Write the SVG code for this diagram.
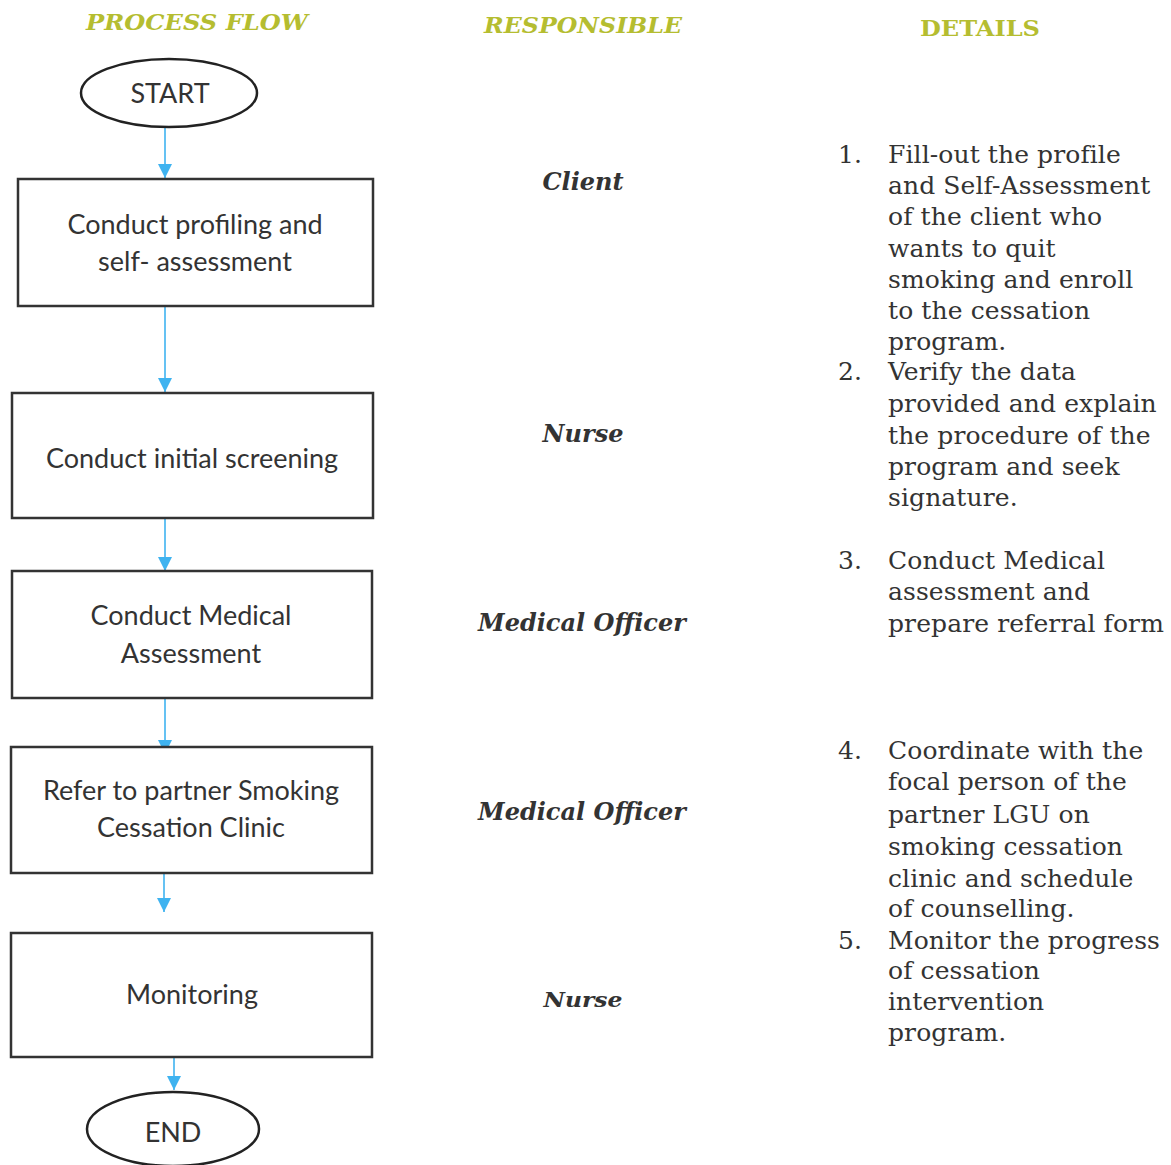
<svg xmlns="http://www.w3.org/2000/svg" width="1171" height="1165" viewBox="0 0 1171 1165">
<defs>
<marker id="arr" viewBox="0 0 10 10" refX="10" refY="5" markerWidth="14" markerHeight="14" markerUnits="userSpaceOnUse" orient="auto">
<path d="M0,0 L10,5 L0,10 Z" fill="#3fb3f0"/>
</marker>
<style>
.hdr{font-family:"DejaVu Serif","Liberation Serif",serif;font-weight:bold;font-style:italic;font-size:22px;fill:#b5bd30;text-anchor:middle}
.hdr2{font-family:"DejaVu Serif","Liberation Serif",serif;font-weight:bold;font-size:22px;fill:#b5bd30;text-anchor:middle}
.box{fill:#fff;stroke:#333;stroke-width:2.5}
.ell{fill:#fff;stroke:#222;stroke-width:2.5}
.lbl{font-family:"Lato","Open Sans",sans-serif;font-size:27px;fill:#333;text-anchor:middle}
.resp{font-family:"DejaVu Serif","Liberation Serif",serif;font-weight:bold;font-style:italic;font-size:24px;fill:#333;text-anchor:middle}
.det{font-family:"DejaVu Serif","Liberation Serif",serif;font-size:25px;letter-spacing:0.1px;fill:#333}
.conn{stroke:#3fb3f0;stroke-width:1.6;fill:none}
</style>
</defs>
<rect width="1171" height="1165" fill="#fff"/>
<g id="headers">
<text class="hdr" x="197" y="30" textLength="222" lengthAdjust="spacingAndGlyphs">PROCESS FLOW</text>
<text class="hdr" x="583" y="33" textLength="198" lengthAdjust="spacingAndGlyphs">RESPONSIBLE</text>
<text class="hdr2" x="980" y="36" textLength="120" lengthAdjust="spacingAndGlyphs">DETAILS</text>
</g>
<g id="connectors">
<line class="conn" x1="165" y1="128" x2="165" y2="178" marker-end="url(#arr)"/>
<line class="conn" x1="165" y1="306" x2="165" y2="392" marker-end="url(#arr)"/>
<line class="conn" x1="165" y1="519" x2="165" y2="571" marker-end="url(#arr)"/>
<line class="conn" x1="165" y1="698" x2="165" y2="754" marker-end="url(#arr)"/>
<line class="conn" x1="164" y1="873" x2="164" y2="912" marker-end="url(#arr)"/>
<line class="conn" x1="174" y1="1057" x2="174" y2="1090" marker-end="url(#arr)"/>
</g>
<g id="start">
<ellipse class="ell" cx="169" cy="93" rx="88" ry="34"/>
<text class="lbl" x="170" y="103">START</text>
</g>
<g id="profiling">
<rect class="box" x="18" y="179" width="355" height="127"/>
<text class="lbl" x="195" y="234">Conduct profiling and</text>
<text class="lbl" x="195" y="271">self- assessment</text>
</g>
<g id="screening">
<rect class="box" x="12" y="393" width="361" height="125"/>
<text class="lbl" x="192" y="468">Conduct initial screening</text>
</g>
<g id="medical">
<rect class="box" x="12" y="571" width="360" height="127"/>
<text class="lbl" x="191" y="625">Conduct Medical</text>
<text class="lbl" x="191" y="663">Assessment</text>
</g>
<g id="refer">
<rect class="box" x="11" y="747" width="361" height="126"/>
<text class="lbl" x="191" y="800">Refer to partner Smoking</text>
<text class="lbl" x="191" y="837">Cessation Clinic</text>
</g>
<g id="monitoring">
<rect class="box" x="11" y="933" width="361" height="124"/>
<text class="lbl" x="192" y="1004">Monitoring</text>
</g>
<g id="end">
<ellipse class="ell" cx="173" cy="1129" rx="86" ry="37"/>
<text class="lbl" x="173" y="1142">END</text>
</g>
<g id="responsible">
<text class="resp" x="583" y="190">Client</text>
<text class="resp" x="583" y="442">Nurse</text>
<text class="resp" x="582" y="631">Medical Officer</text>
<text class="resp" x="582" y="820">Medical Officer</text>
<text class="resp" x="583" y="1007" style="font-size:21px" textLength="79" lengthAdjust="spacingAndGlyphs">Nurse</text>
</g>
<g id="details">
<text class="det" x="838" y="163">1.</text>
<text class="det" x="888" y="163">Fill-out the profile</text>
<text class="det" x="888" y="194">and Self-Assessment</text>
<text class="det" x="888" y="225">of the client who</text>
<text class="det" x="888" y="257">wants to quit</text>
<text class="det" x="888" y="288">smoking and enroll</text>
<text class="det" x="888" y="319">to the cessation</text>
<text class="det" x="888" y="350">program.</text>
<text class="det" x="838" y="380">2.</text>
<text class="det" x="888" y="380">Verify the data</text>
<text class="det" x="888" y="412">provided and explain</text>
<text class="det" x="888" y="444">the procedure of the</text>
<text class="det" x="888" y="475">program and seek</text>
<text class="det" x="888" y="506">signature.</text>
<text class="det" x="838" y="569">3.</text>
<text class="det" x="888" y="569">Conduct Medical</text>
<text class="det" x="888" y="600">assessment and</text>
<text class="det" x="888" y="632">prepare referral form</text>
<text class="det" x="838" y="759">4.</text>
<text class="det" x="888" y="759">Coordinate with the</text>
<text class="det" x="888" y="790">focal person of the</text>
<text class="det" x="888" y="823">partner LGU on</text>
<text class="det" x="888" y="855">smoking cessation</text>
<text class="det" x="888" y="887">clinic and schedule</text>
<text class="det" x="888" y="917">of counselling.</text>
<text class="det" x="838" y="949">5.</text>
<text class="det" x="888" y="949">Monitor the progress</text>
<text class="det" x="888" y="979">of cessation</text>
<text class="det" x="888" y="1010">intervention</text>
<text class="det" x="888" y="1041">program.</text>
</g>
</svg>
